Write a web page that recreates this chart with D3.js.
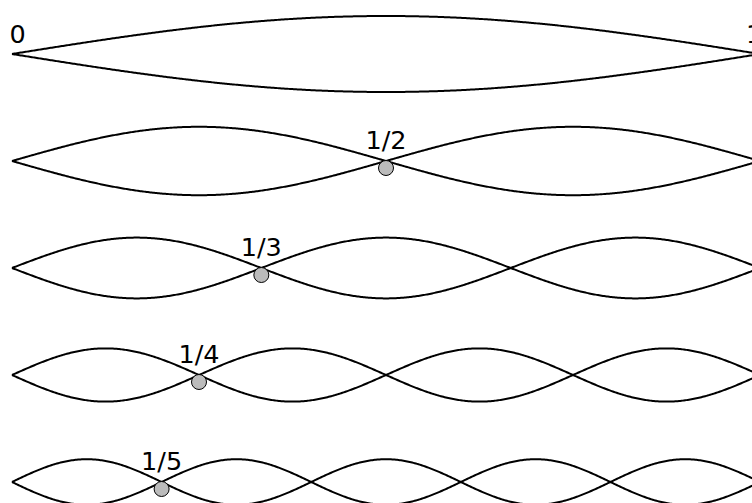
<!DOCTYPE html>
<html><head><meta charset="utf-8">
<script src="https://cdn.jsdelivr.net/npm/d3@7"></script>
<style>html,body{margin:0;padding:0;background:#fff;overflow:hidden}</style>
</head><body>
<svg id="c" width="752" height="503"></svg>
<script>
const modes = [1, 2, 3, 4, 5];
const amplitudes = [1.0, 0.9, 0.8, 0.7, 0.6];
const nodeLabels = ["1/2", "1/3", "1/4", "1/5"];
const nodePositions = [1/2, 1/3, 1/4, 1/5];
const endLabels = ["0", "1"];
const endPositions = [0, 1];

const svg = d3.select("#c");
const x = d3.scaleLinear().domain([0, 1]).range([12, 760]);
const row = d3.scaleLinear().domain([1, 5]).range([54, 482]);
const amp = d3.scaleLinear().domain([0, 1]).range([0, 38]);

const samples = d3.range(0, 1.0000001, 1/600);
modes.forEach((n, i) => {
  const cy = row(n);
  const A = amplitudes[i];
  [1, -1].forEach(sgn => {
    const line = d3.line()
      .x(t => x(t))
      .y(t => cy - sgn * amp(A * Math.sin(n * Math.PI * t)))
      .curve(d3.curveLinear);
    svg.append("path").attr("d", line(samples))
      .attr("fill", "none").attr("stroke", "#000").attr("stroke-width", 2);
  });
});

endLabels.forEach((l, i) => {
  svg.append("text").attr("x", x(endPositions[i]) + (i === 0 ? -2.5 : -14)).attr("y", row(1) - 11.5)
    .attr("text-anchor", "start").attr("font-family", "DejaVu Sans")
    .attr("font-size", 25.5).text(l);
});

nodeLabels.forEach((l, i) => {
  const n = modes[i + 1];
  const cx = x(nodePositions[i]);
  const cy = row(n);
  svg.append("circle").attr("cx", cx).attr("cy", cy + 7).attr("r", 7.5)
    .attr("fill", "#bbbbbb").attr("stroke", "#000").attr("stroke-width", 1);
  svg.append("text").attr("x", cx).attr("y", cy - 12.5)
    .attr("text-anchor", "middle").attr("font-family", "DejaVu Sans")
    .attr("font-size", 25.5).text(l);
});
</script>
</body></html>
